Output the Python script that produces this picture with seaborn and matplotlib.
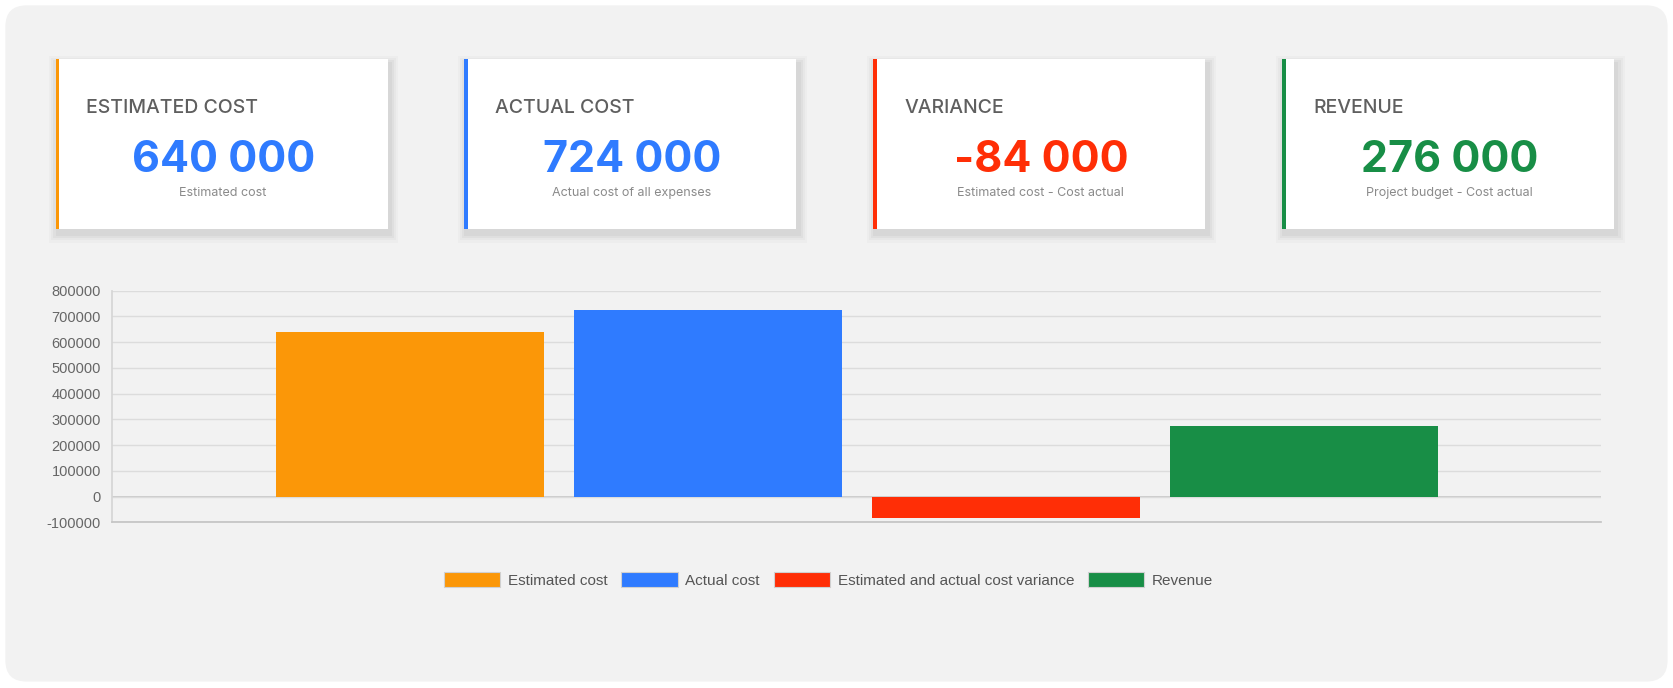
import matplotlib
matplotlib.use("Agg")
import matplotlib.pyplot as plt
from matplotlib.patches import FancyBboxPatch, Rectangle
import seaborn as sns
import pandas as pd

categories = ["Estimated cost", "Actual cost", "Estimated and actual cost variance", "Revenue"]
values = [640000, 724000, -84000, 276000]
colors = ["#fb9708", "#2f7bff", "#ff2e06", "#188e46"]
card_titles = ["ESTIMATED COST", "ACTUAL COST", "VARIANCE", "REVENUE"]
card_values = ["640 000", "724 000", "-84 000", "276 000"]
card_subs = ["Estimated cost", "Actual cost of all expenses", "Estimated cost - Cost actual", "Project budget - Cost actual"]
card_value_colors = ["#2f7bff", "#2f7bff", "#ff2e06", "#188e46"]
card_accents = ["#fb9708", "#2f7bff", "#ff2e06", "#188e46"]
yticks = [-100000, 0, 100000, 200000, 300000, 400000, 500000, 600000, 700000, 800000]

W, H = 1568.0, 644.0
fx = lambda x: x / W
fy = lambda y: 1 - y / H

sns.set_theme(style="white")
fig = plt.figure(figsize=(16.74, 6.88), dpi=100)
fig.patch.set_facecolor("white")

bg = fig.add_axes([0, 0, 1, 1], zorder=0)
bg.set_xlim(0, W); bg.set_ylim(H, 0); bg.axis("off")
bg.add_patch(FancyBboxPatch((5 + 20, 5 + 20), 1557 - 40, 633 - 40,
                            boxstyle="round,pad=20", fc="#f2f2f2", ec="none"))
card_x = [52, 435, 818, 1201]
for i in range(4):
    x0 = card_x[i]; y0 = 55; w = 311; h = 159
    for k, a in enumerate([0.02, 0.025, 0.03, 0.035]):
        pad = 8 - 2 * k
        bg.add_patch(Rectangle((x0 - pad + 2, y0 - pad + 5), w + 2 * pad, h + 2 * pad,
                               fc="black", ec="none", alpha=a))
    bg.add_patch(Rectangle((x0, y0), w, h, fc="white", ec="none"))
    bg.add_patch(Rectangle((x0, y0), 3.5, h, fc=card_accents[i], ec="none"))
    bg.text(x0 + 29, 101, card_titles[i], fontsize=14, color="#5f5f5f",
            family="Inter", fontweight="medium", va="center", ha="left")
    bg.text(x0 + 157, 150, card_values[i], fontsize=31, color=card_value_colors[i],
            family="Inter", fontweight="bold", va="center", ha="center")
    bg.text(x0 + 157, 181, card_subs[i], fontsize=9, color="#8a8a8a",
            family="Inter", va="center", ha="center")

ax = fig.add_axes([fx(105), fy(489), fx(1500) - fx(105), (489 - 272) / H], zorder=1)
ax.set_facecolor("none")
df = pd.DataFrame({"cat": categories, "val": values})
sns.barplot(data=df, x="cat", y="val", hue="cat", palette=colors, order=categories,
            hue_order=categories, dodge=False, width=0.9, ax=ax, legend=False,
            edgecolor="none", saturation=1)
ax.set_xlim(-1, 4)
ax.set_ylim(-100000, 800000)
ax.set_yticks(yticks)
ax.set_yticklabels([str(v) for v in yticks], family="Liberation Sans", fontsize=10.5, color="#666666")
ax.set_xticks([])
ax.set_xlabel(""); ax.set_ylabel("")
ax.grid(axis="y", color="#dcdcdc", linewidth=1)
ax.set_axisbelow(True)
ax.axhline(0, color="#c4c4c4", linewidth=1.2, zorder=0.5)
for s in ["top", "right"]:
    ax.spines[s].set_visible(False)
ax.spines["left"].set_color("#d6d6d6")
ax.spines["bottom"].set_color("#c4c4c4")
ax.tick_params(axis="y", length=6, color="#dcdcdc", pad=2)

handles = [Rectangle((0, 0), 1, 1, fc=c, ec="#d0d0d0", lw=0.8) for c in colors]
fig.legend(handles, categories, loc="center", bbox_to_anchor=(fx(776), fy(543)), ncol=4,
           frameon=False, prop={"family": "Liberation Sans", "size": 11},
           handlelength=3.7, handleheight=1.1, handletextpad=0.5, columnspacing=0.9,
           labelcolor="#555555")

fig.savefig("out.png", dpi=100, facecolor="white")
